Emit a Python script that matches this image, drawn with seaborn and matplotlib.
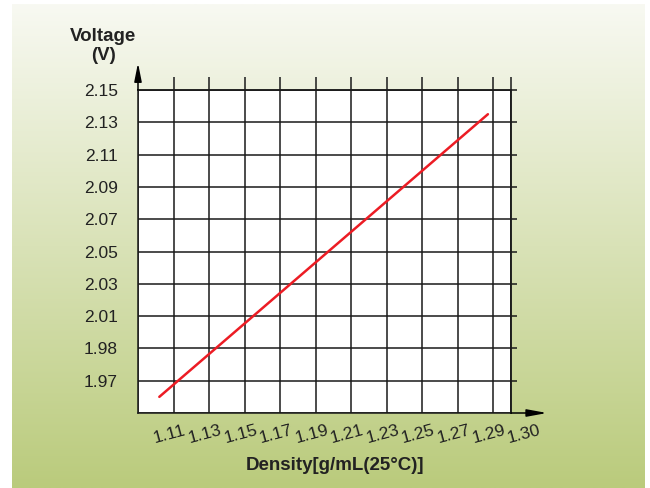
import numpy as np
import matplotlib
matplotlib.use("Agg")
import matplotlib.pyplot as plt
import matplotlib.transforms as mtransforms
import seaborn as sns

# data
density = [1.102, 1.287]
voltage = [1.96, 2.135]

x_ticks = [1.09, 1.11, 1.13, 1.15, 1.17, 1.19, 1.21, 1.23, 1.25, 1.27, 1.29, 1.30]
x_labels = ['', '1.11', '1.13', '1.15', '1.17', '1.19', '1.21', '1.23', '1.25', '1.27', '1.29', '1.30']
y_ticks = [1.95, 1.97, 1.99, 2.01, 2.03, 2.05, 2.07, 2.09, 2.11, 2.13, 2.15]
y_labels = ['', '1.97', '1.98', '2.01', '2.03', '2.05', '2.07', '2.09', '2.11', '2.13', '2.15']

sns.set_style('white')
plt.rcParams['font.family'] = ['Liberation Sans', 'DejaVu Sans']

W, H = 650, 488
fig = plt.figure(figsize=(W / 100, H / 100), dpi=100)

# gradient background (white top -> green bottom)
bg = fig.add_axes([12 / W, 0, 633 / W, 1 - 4 / H])
top_c = np.array([248, 249, 242]) / 255
bot_c = np.array([186, 203, 124]) / 255
t = np.linspace(0, 1, 256)[:, None, None]
grad = top_c * (1 - t) + bot_c * t
bg.imshow(grad, aspect='auto', extent=[0, 1, 0, 1])
bg.axis('off')
bg.set_zorder(-1)

ax = fig.add_axes([138 / W, 1 - 413 / H, 373 / W, 323 / H])
ax.set_facecolor('white')

sns.lineplot(x=density, y=voltage, ax=ax, color='#ec1c24', lw=1.8, zorder=5)

ax.set_xlim(1.09, 1.30)
ax.set_ylim(1.95, 2.15)
ax.set_xticks(x_ticks)
ax.set_xticklabels(x_labels, rotation=15, ha='center', va='top', fontsize=12.5, color='#222222')
ax.set_yticks(y_ticks)
ax.set_yticklabels(y_labels, fontsize=12.5, color='#222222')
ax.grid(True, color='#1a1a1a', lw=1.1)
ax.set_axisbelow(True)
for s in ax.spines.values():
    s.set_color('#1a1a1a')
    s.set_linewidth(1.1)
ax.tick_params(axis='x', length=5.8, width=1.1, color='#1a1a1a', pad=1)
ax.tick_params(axis='y', length=3.6, width=1.1, color='#1a1a1a', pad=11)
ax.set_xlabel('')
ax.set_ylabel('')

# nudge x tick labels like the reference
labs = ax.get_xticklabels()
for i, lab in enumerate(labs):
    dx = 13 if i == len(labs) - 1 else -4
    lab.set_transform(lab.get_transform() + mtransforms.ScaledTranslation(dx / 100, 0, fig.dpi_scale_trans))

# grid stubs above and to the right
secx = ax.secondary_xaxis('top')
secx.set_xticks(x_ticks[1:])
secx.set_xticklabels([])
secx.tick_params(length=9.4, width=1.1, color='#1a1a1a')
secx.spines['top'].set_linewidth(1.1)
secy = ax.secondary_yaxis('right')
secy.set_yticks(y_ticks[1:])
secy.set_yticklabels([])
secy.tick_params(length=4.3, width=1.1, color='#1a1a1a')
secy.spines['right'].set_linewidth(1.1)

# axis arrows
ax.annotate('', xy=(0, 1 + 27 / 323), xytext=(0, 1), xycoords='axes fraction',
            arrowprops=dict(arrowstyle='-|>,head_length=1.1,head_width=0.22',
                            color='black', lw=1.1, mutation_scale=10, shrinkA=0, shrinkB=0))
ax.annotate('', xy=(1 + 36 / 373, 0), xytext=(1, 0), xycoords='axes fraction',
            arrowprops=dict(arrowstyle='-|>,head_length=1.2,head_width=0.22',
                            color='black', lw=1.1, mutation_scale=10, shrinkA=0, shrinkB=0))

fig.text(103 / W, 1 - 46 / H, 'Voltage\n(V)', ha='center', va='center', fontsize=13.5,
         fontweight='bold', color='#222222', linespacing=1.1)
fig.text(335 / W, 1 - 465 / H, 'Density[g/mL(25°C)]', ha='center', va='center', fontsize=13.5,
         fontweight='bold', color='#222222')

fig.savefig('out.png', dpi=100)
